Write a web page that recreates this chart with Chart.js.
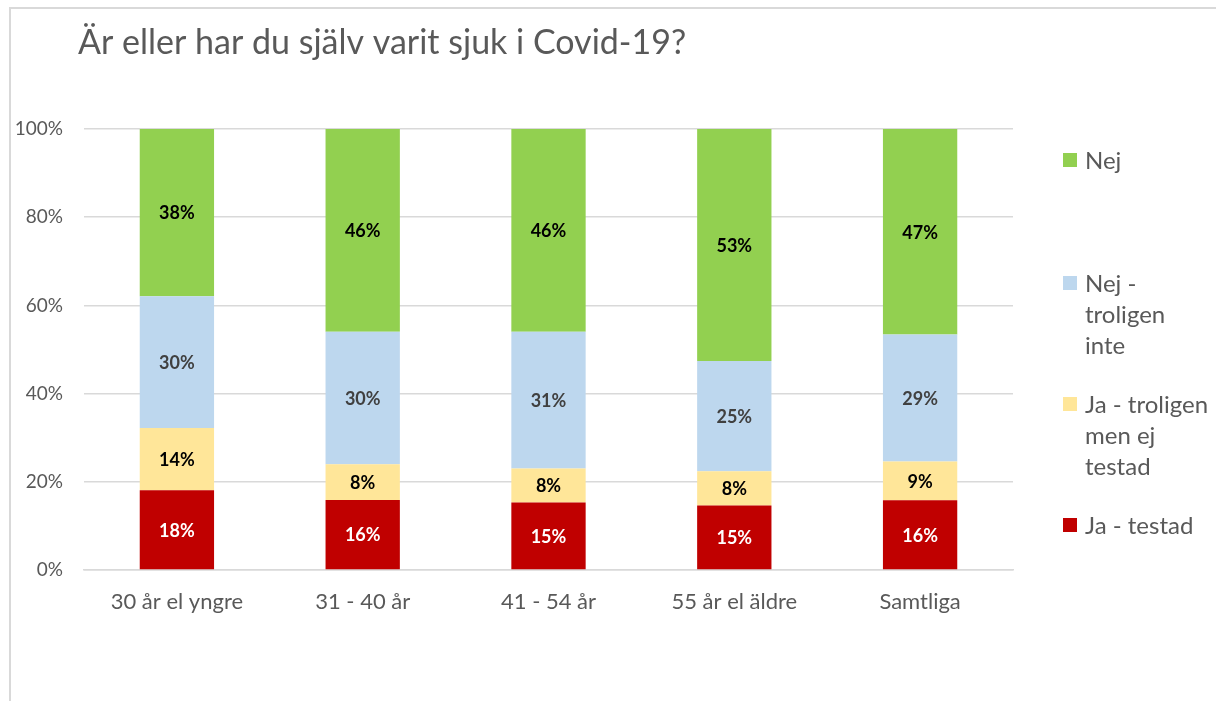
<!DOCTYPE html>
<html>
<head>
<meta charset="utf-8">
<script src="https://cdn.jsdelivr.net/npm/chart.js@4"></script>
<style>
  html, body { margin: 0; padding: 0; background: #fff; overflow: hidden; }
  #wrap { position: relative; width: 1216px; height: 701px; }
  #frame { position: absolute; left: 9px; top: 7px; width: 1300px; height: 800px; border: 2px solid #d9d9d9; box-sizing: border-box; }
  canvas { position: absolute; left: 0; top: 0; }
</style>
</head>
<body>
<div id="wrap">
  <div id="frame"></div>
  <canvas id="myChart" width="1216" height="701"></canvas>
</div>
<script>
// Data (procent per åldersgrupp)
const titel = 'Är eller har du själv varit sjuk i Covid-19?';
const kategorier = ['30 år el yngre', '31 - 40 år', '41 - 54 år', '55 år el äldre', 'Samtliga'];
const jaTestad = [18.1, 15.9, 15.3, 14.6, 15.8];
const jaTroligen = [14.1, 8.1, 7.7, 7.8, 8.8];
const nejTroligenInte = [29.9, 30.0, 31.0, 25.0, 28.8];
const nej = [37.9, 46.0, 46.0, 52.6, 46.6];
const yTicks = [0, 20, 40, 60, 80, 100];

const serier = [
    { label: 'Ja - testad', lines: ['Ja - testad'], data: jaTestad, color: '#C00000', text: '#ffffff' },
    { label: 'Ja - troligen men ej testad', lines: ['Ja - troligen', 'men ej', 'testad'], data: jaTroligen, color: '#FFE699', text: '#000000' },
    { label: 'Nej - troligen inte', lines: ['Nej -', 'troligen', 'inte'], data: nejTroligenInte, color: '#BDD7EE', text: '#404040' },
    { label: 'Nej', lines: ['Nej'], data: nej, color: '#92D050', text: '#000000' }
];

const FONT = 'Lato, "Open Sans", sans-serif';
const GRAY = '#595959';

// Etiketter i staplarna
const barLabels = {
    id: 'barLabels',
    afterDatasetsDraw(chart) {
        const ctx = chart.ctx;
        ctx.save();
        ctx.font = 'bold 18px ' + FONT;
        ctx.textAlign = 'center';
        ctx.textBaseline = 'middle';
        chart.data.datasets.forEach((ds, i) => {
            const meta = chart.getDatasetMeta(i);
            meta.data.forEach((bar, j) => {
                const mid = (bar.y + bar.base) / 2;
                ctx.fillStyle = serier[i].text;
                ctx.fillText(Math.round(ds.data[j]) + '%', bar.x, mid + 1);
            });
        });
        ctx.restore();
    }
};

// Titel och förklaring (omvänd ordning, radbrytning som i Excel)
const titleLegend = {
    id: 'titleLegend',
    afterDraw(chart) {
        const ctx = chart.ctx;
        const area = chart.chartArea;
        ctx.save();
        ctx.fillStyle = GRAY;
        ctx.font = '34px ' + FONT;
        ctx.textAlign = 'left';
        ctx.textBaseline = 'alphabetic';
        ctx.fillText(titel, 78, 54);

        const firstLineY = [160, 283, 404, 525];
        const lineH = 31;
        ctx.font = '24px ' + FONT;
        ctx.textBaseline = 'middle';
        const order = serier.slice().reverse();
        order.forEach((s, k) => {
            const y0 = firstLineY[k];
            ctx.fillStyle = s.color;
            ctx.fillRect(area.right + 50, y0 - 7, 14, 14);
            ctx.fillStyle = GRAY;
            s.lines.forEach((t, n) => {
                ctx.fillText(t, area.right + 72, y0 + n * lineH + 1);
            });
        });
        ctx.restore();
    }
};

const ctx = document.getElementById('myChart').getContext('2d');
const myChart = new Chart(ctx, {
    type: 'bar',
    data: {
        labels: kategorier,
        datasets: serier.map(s => ({
            label: s.label,
            data: s.data,
            backgroundColor: s.color,
            borderWidth: 0,
            barPercentage: 0.4,
            categoryPercentage: 1.0
        }))
    },
    options: {
        responsive: false,
        animation: false,
        layout: { padding: { left: 10, right: 203, top: 129, bottom: 81 } },
        plugins: {
            legend: { display: false },
            title: { display: false },
            tooltip: { enabled: false }
        },
        scales: {
            x: {
                stacked: true,
                grid: { display: false },
                border: { color: '#d9d9d9', width: 1.5 },
                ticks: { color: GRAY, font: { family: FONT, size: 22 }, padding: 11 },
                afterFit(scale) { scale.height = 50; }
            },
            y: {
                stacked: true,
                min: 0,
                max: 100,
                afterBuildTicks(scale) { scale.ticks = yTicks.map(v => ({ value: v })); },
                grid: { color: '#d9d9d9', lineWidth: 1.5, drawTicks: false },
                border: { display: false },
                ticks: {
                    color: GRAY,
                    font: { family: FONT, size: 19 },
                    padding: 21,
                    callback: v => v + '%'
                },
                afterFit(scale) { scale.width = 74; }
            }
        }
    },
    plugins: [barLabels, titleLegend]
});
</script>
</body>
</html>
